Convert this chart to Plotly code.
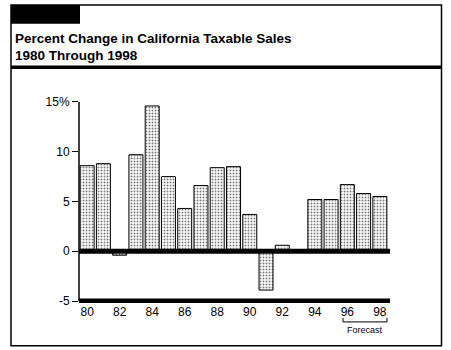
import plotly.graph_objects as go

# Annual percent change in California taxable sales (96-98 are forecast)
years = [80, 81, 82, 83, 84, 85, 86, 87, 88, 89, 90, 91, 92, 93, 94, 95, 96, 97, 98]
pct_change = [8.6, 8.8, -0.4, 9.7, 14.6, 7.5, 4.3, 6.6, 8.4, 8.5, 3.7, -3.9, 0.6, 0.0, 5.2, 5.2, 6.7, 5.8, 5.5]
y_ticks = [-5, 0, 5, 10, 15]
y_tick_text = ["-5", "0", "5", "10", "15%"]
x_ticks = [80, 82, 84, 86, 88, 90, 92, 94, 96, 98]

W, H = 451, 350
L, R = 79, 388          # plot area, pixels
T, B = 96.5, 303.5


def px(x):
    return (x - L) / (R - L)


def py(y):
    return (B - y) / (B - T)


fig = go.Figure(go.Bar(
    x=years, y=pct_change,
    marker=dict(color="white",
                line=dict(color="black", width=1),
                pattern=dict(shape=".", fgcolor="black", bgcolor="white",
                             size=3, solidity=0.35)),
    width=0.86,
))

shapes = [
    # outer frame
    dict(type="rect", xref="paper", yref="paper", x0=px(11), x1=px(441.5), y0=py(4), y1=py(346.5),
         line=dict(color="black", width=1.5), layer="below"),
    # black tab
    dict(type="rect", xref="paper", yref="paper", x0=px(11), x1=px(80), y0=py(4), y1=py(23),
         fillcolor="black", line=dict(width=0)),
    # rule under heading
    dict(type="line", xref="paper", yref="paper", x0=px(11), x1=px(442), y0=py(66.5), y1=py(66.5),
         line=dict(color="black", width=3.5)),
    # y axis line
    dict(type="line", xref="paper", yref="y", x0=0, x1=0, y0=-5, y1=15,
         line=dict(color="black", width=1.5)),
    # zero line
    dict(type="line", xref="paper", yref="y", x0=0, x1=px(390), y0=0, y1=0,
         line=dict(color="black", width=5), layer="above"),
    # bottom baseline
    dict(type="line", xref="paper", yref="y", x0=0, x1=px(390), y0=-5, y1=-5,
         line=dict(color="black", width=5), layer="above"),
    # forecast bracket
    dict(type="path", xref="paper", yref="paper",
         path=f"M {px(343)} {py(318.5)} L {px(343)} {py(322.5)} L {px(387)} {py(322.5)} L {px(387)} {py(318.5)}",
         line=dict(color="black", width=1)),
]

annotations = [
    dict(text="<b>Percent Change in California Taxable Sales</b>", xref="paper", yref="paper",
         x=px(13), y=py(37.5), xanchor="left", yanchor="middle", showarrow=False,
         font=dict(family="Liberation Sans", size=13.5, color="black")),
    dict(text="<b>1980 Through 1998</b>", xref="paper", yref="paper",
         x=px(13), y=py(55), xanchor="left", yanchor="middle", showarrow=False,
         font=dict(family="Liberation Sans", size=13.5, color="black")),
    dict(text="Forecast", xref="paper", yref="paper",
         x=px(365), y=py(331), xanchor="center", yanchor="middle", showarrow=False,
         font=dict(family="Liberation Sans", size=9, color="black")),
]

fig.update_layout(
    width=W, height=H,
    margin=dict(l=L, r=W - R, t=T, b=H - B, pad=0),
    paper_bgcolor="white", plot_bgcolor="white",
    showlegend=False,
    shapes=shapes, annotations=annotations,
    font=dict(family="Liberation Sans Narrow, Liberation Sans", size=12, color="black"),
    xaxis=dict(range=[79.5, 98.5], tickvals=x_ticks, ticktext=[str(v) for v in x_ticks],
               showgrid=False, zeroline=False, showline=False, ticks="",
               tickfont=dict(size=12)),
    yaxis=dict(range=[-5.2, 15.5], tickvals=y_ticks, ticktext=y_tick_text,
               showgrid=False, zeroline=False, showline=False,
               ticks="outside", ticklen=6, tickwidth=1, tickcolor="black",
               tickfont=dict(size=12)),
)

fig.write_html("out.html")
